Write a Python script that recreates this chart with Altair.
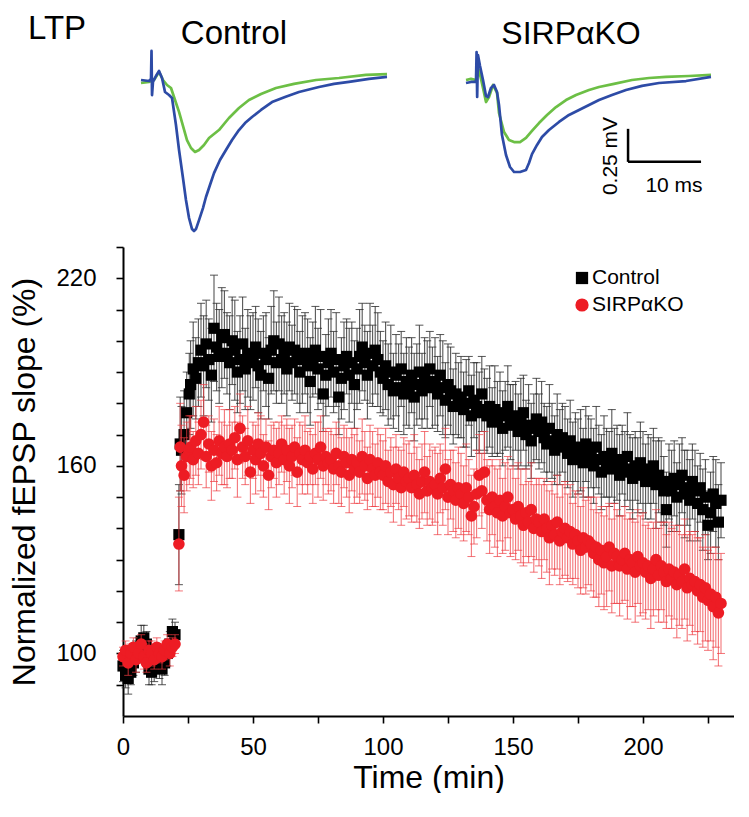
import altair as alt
import pandas as pd

# ---------------- LTP time course data ----------------
time_base = list(range(0, 21))
time_jump = [21.5, 22, 22.5, 23.5, 24.5, 25.5]
time_post = list(range(26, 231))

ctrl_base = [96, 93, 92, 94, 97, 99, 101, 104, 105, 103, 95, 94, 96, 99, 97, 95, 97, 100, 103, 107, 106]
ctrl_base_err = [5, 4, 5, 4, 4, 5, 4, 5, 4, 4, 5, 4, 5, 4, 5, 5, 4, 4, 4, 4, 4]
ctrl_jump = [138, 167, 165, 170, 177, 183]
ctrl_jump_err = [16, 15, 14, 14, 13, 13]
ctrl_post = [
    186, 191, 188, 193,
    197, 192, 199, 194, 189, 204, 198, 195, 201, 202,
    196, 193, 200, 197, 190, 194, 199, 191, 196, 193,
    195, 198, 192, 189, 196, 194, 188, 197, 200, 193,
    199, 194, 196, 191, 198, 193, 197, 195, 190, 194,
    196, 192, 187, 194, 197, 191, 195, 183, 189, 193,
    196, 190, 194, 182, 188, 192, 195, 189, 193, 186,
    191, 195, 198, 193, 189, 196, 192, 197, 194, 190,
    188, 192, 186, 190, 184, 189, 185, 191, 183, 187,
    185, 189, 182, 186, 190, 184, 188, 186, 191, 185,
    187, 183, 189, 185, 181, 186, 184, 179, 183, 181,
    182, 178, 180, 184, 176, 181, 179, 177, 183, 178,
    176, 179, 174, 178, 175, 177, 172, 176, 179, 174,
    173, 176, 171, 174, 177, 170, 173, 168, 172, 175,
    171, 174, 169, 167, 172, 168, 165, 170, 166, 169,
    167, 164, 168, 162, 166, 163, 165, 161, 167, 163,
    164, 160, 166, 162, 158, 163, 161, 159, 164, 160,
    161, 157, 162, 159, 163, 158, 156, 160, 157, 161,
    158, 155, 159, 156, 160, 154, 157, 155, 152, 146,
    155, 152, 156, 150, 154, 157, 151, 153, 149, 155,
    152, 148, 153, 146, 150, 141, 145, 151, 148, 142,
    149,
]
ctrl_post_err = [
    14, 15, 13, 14,
    15, 16, 14, 13, 15, 17, 14, 15, 16, 14,
    13, 15, 14, 16, 13, 14, 15, 13, 14, 15,
    14, 13, 15, 14, 12, 15, 13, 14, 16, 13,
    15, 14, 13, 15, 14, 12, 14, 15, 13, 14,
    13, 15, 14, 12, 14, 13, 15, 12, 13, 14,
    14, 13, 15, 12, 13, 14, 12, 15, 13, 14,
    13, 15, 14, 12, 14, 16, 13, 14, 15, 13,
    12, 14, 13, 15, 12, 13, 14, 12, 13, 14,
    13, 12, 14, 13, 15, 12, 13, 14, 12, 13,
    14, 12, 13, 15, 12, 13, 14, 12, 13, 12,
    13, 12, 14, 11, 13, 12, 14, 13, 12, 13,
    12, 13, 11, 14, 12, 13, 12, 11, 13, 12,
    13, 11, 12, 14, 12, 11, 13, 12, 11, 13,
    12, 13, 11, 12, 14, 12, 11, 13, 12, 11,
    12, 11, 13, 12, 11, 12, 13, 11, 12, 13,
    11, 12, 13, 11, 12, 13, 11, 12, 14, 12,
    12, 13, 11, 12, 14, 12, 13, 11, 12, 13,
    13, 12, 11, 13, 12, 14, 12, 13, 11, 12,
    12, 13, 12, 11, 13, 12, 14, 12, 13, 12,
    13, 12, 11, 13, 12, 11, 13, 12, 14, 12,
    12,
]

ko_base = [99, 101, 97, 100, 102, 98, 100, 103, 99, 97, 101, 100, 98, 102, 100, 99, 101, 103, 100, 102, 103]
ko_base_err = [3, 3, 4, 3, 3, 4, 3, 3, 4, 3, 3, 4, 3, 3, 3, 4, 3, 3, 4, 3, 3]
ko_jump = [135, 166, 160, 157, 163, 165]
ko_jump_err = [15, 14, 13, 12, 11, 11]
ko_post = [
    166, 162, 168, 164,
    170, 174, 163, 167, 160, 165, 161, 168, 164, 166,
    163, 167, 165, 169, 162, 172, 166, 163, 168, 158,
    165, 162, 167, 164, 160, 166, 157, 163, 165, 161,
    164, 167, 162, 165, 160, 163, 166, 158, 164, 162,
    165, 161, 163, 159, 164, 162, 166, 160, 163, 161,
    162, 159, 164, 160, 158, 163, 161, 157, 162, 159,
    161, 158, 163, 160, 156, 162, 159, 157, 161, 158,
    157, 160, 155, 158, 154, 159, 156, 153, 158, 155,
    156, 153, 157, 154, 151, 155, 158, 152, 155, 153,
    154, 151, 156, 153, 159, 150, 154, 152, 149, 153,
    151, 148, 153, 150, 144, 147, 151, 157, 152, 158,
    149, 146, 150, 147, 145, 149, 144, 147, 150, 145,
    146, 143, 147, 144, 141, 145, 142, 146, 140, 143,
    142, 139, 143, 140, 137, 141, 138, 142, 136, 139,
    140, 137, 139, 135, 138, 136, 133, 137, 134, 136,
    135, 132, 134, 130, 133, 129, 131, 134, 128, 132,
    131, 128, 130, 132, 127, 130, 129, 126, 131, 128,
    129, 126, 128, 124, 127, 130, 125, 128, 126, 123,
    127, 124, 126, 122, 125, 123, 127, 121, 124, 122,
    123, 120, 122, 118, 121, 117, 119, 115, 118, 113,
    116,
]
ko_post_err = [
    10, 9, 11, 10,
    11, 12, 10, 9, 11, 10, 9, 11, 10, 12,
    10, 11, 9, 10, 12, 11, 10, 9, 11, 10,
    9, 11, 10, 12, 10, 9, 11, 10, 9, 11,
    10, 9, 11, 10, 12, 10, 9, 11, 10, 11,
    11, 10, 9, 11, 10, 12, 10, 11, 9, 10,
    10, 11, 10, 12, 11, 10, 11, 12, 10, 11,
    11, 10, 12, 11, 10, 11, 12, 10, 11, 12,
    11, 12, 10, 11, 12, 11, 10, 12, 11, 12,
    12, 11, 13, 12, 11, 12, 13, 11, 12, 12,
    12, 13, 11, 12, 13, 12, 11, 13, 12, 13,
    13, 12, 14, 12, 13, 12, 14, 13, 12, 13,
    13, 14, 12, 13, 14, 13, 12, 14, 13, 14,
    14, 13, 14, 15, 13, 14, 13, 15, 14, 13,
    14, 15, 13, 14, 15, 14, 13, 15, 14, 15,
    15, 14, 15, 13, 14, 15, 14, 16, 15, 14,
    15, 14, 16, 15, 14, 15, 16, 14, 15, 16,
    15, 16, 14, 15, 16, 15, 14, 16, 15, 16,
    16, 15, 14, 16, 15, 16, 15, 14, 16, 15,
    15, 16, 15, 17, 16, 15, 16, 17, 15, 16,
    16, 17, 15, 16, 17, 16, 15, 17, 16, 17,
    16,
]

series_names = ["Control", "SIRPαKO"]
series_colors = ["#000000", "#ED1C24"]
series_shapes = ["square", "circle"]

x_ticks = [0, 25, 50, 75, 100, 125, 150, 175, 200, 225]
x_labels = [0, 50, 100, 150, 200]
y_ticks = [90, 100, 110, 120, 130, 140, 150, 160, 170, 180, 190, 200, 210, 220, 230]
y_labels = [100, 160, 220]

# ---------------- example traces (ms, mV) ----------------
ctrl_blue_t = [0, 1.10, 1.37, 1.44, 1.51, 1.64, 2.05, 2.47, 2.88, 3.29, 3.84, 4.25, 4.79, 5.21, 5.75, 6.16,
               6.58, 6.99, 7.26, 7.53, 7.95, 8.49, 8.90, 9.45, 10.0, 10.82, 11.64, 12.47, 13.42, 14.25,
               15.21, 16.44, 17.95, 19.73, 21.64, 24.38, 26.44, 28.49, 31.23, 33.70]
ctrl_blue_v = [0, -0.008, 0.008, 0.22, -0.114, -0.015, 0.03, 0.068, 0.015, -0.091, -0.114, -0.136, -0.341,
               -0.53, -0.742, -0.909, -1.045, -1.129, -1.144, -1.129, -1.061, -0.970, -0.886, -0.795, -0.705,
               -0.606, -0.530, -0.455, -0.379, -0.326, -0.280, -0.227, -0.167, -0.129, -0.091, -0.053,
               -0.030, -0.015, 0.008, 0.023]
ctrl_green_t = [0, 1.10, 1.78, 2.47, 3.01, 3.56, 4.11, 4.66, 5.21, 5.75, 6.30, 6.85, 7.40, 7.95, 8.63, 9.32,
                10.68, 12.05, 13.42, 14.79, 16.44, 18.49, 20.96, 23.97, 27.12, 30.82, 33.70]
ctrl_green_v = [-0.023, -0.015, 0, 0.061, 0, -0.038, -0.061, -0.152, -0.242, -0.348, -0.455, -0.515, -0.545,
                -0.530, -0.492, -0.439, -0.379, -0.288, -0.212, -0.152, -0.106, -0.061, -0.030, 0, 0.015,
                0.038, 0.045]
ko_blue_t = [0, 0.68, 1.37, 1.45, 1.53, 1.64, 1.92, 2.33, 2.74, 3.01, 3.42, 3.84, 4.25, 4.52, 4.93, 5.48,
             6.03, 6.58, 7.40, 8.22, 8.63, 9.04, 9.73, 10.41, 11.37, 12.74, 14.11, 15.48, 16.85, 18.22,
             20.0, 21.92, 24.11, 26.44, 30.14, 33.56]
ko_blue_v = [-0.023, -0.015, -0.015, 0.212, -0.129, 0.189, 0.106, 0, -0.121, -0.129, -0.061, -0.038, -0.091,
             -0.189, -0.417, -0.568, -0.659, -0.697, -0.697, -0.682, -0.629, -0.561, -0.492, -0.432, -0.379,
             -0.318, -0.265, -0.227, -0.189, -0.152, -0.114, -0.076, -0.045, -0.023, -0.008, 0.023]
ko_green_t = [0, 0.68, 1.37, 1.78, 2.33, 2.74, 3.15, 3.70, 4.25, 4.52, 5.21, 5.89, 6.58, 7.40, 8.22, 9.04,
              10.0, 11.10, 12.33, 13.70, 15.07, 16.85, 18.22, 20.27, 22.74, 25.07, 27.40, 30.55, 33.56]
ko_green_v = [0, 0.008, 0, 0.076, -0.061, -0.167, -0.129, -0.038, -0.098, -0.25, -0.394, -0.455, -0.470,
              -0.470, -0.439, -0.386, -0.326, -0.265, -0.205, -0.152, -0.114, -0.076, -0.053, -0.030, 0,
              0.015, 0.023, 0.030, 0.038]

bar_x = [22.2, 22.2]
bar_x2 = [32.2, 22.2]
bar_y = [-0.62, -0.62]
bar_y2 = [-0.62, -0.37]

FONT = "Liberation Sans"
BLUE = "#2D4BA6"
GREEN = "#6CBF45"

# ---------------- build tables ----------------
def series_df(name, base, base_err, jump, jump_err, post, post_err):
    vals = base + jump + post
    errs = base_err + jump_err + post_err
    t = time_base + time_jump + time_post
    assert len(vals) == len(errs) == len(t), (name, len(vals), len(errs), len(t))
    df = pd.DataFrame({"time": t, "value": vals, "err": errs})
    df["lo"] = df["value"] - df["err"]
    df["hi"] = df["value"] + df["err"]
    df["series"] = name
    return df

df_ctrl = series_df(series_names[0], ctrl_base, ctrl_base_err, ctrl_jump, ctrl_jump_err, ctrl_post, ctrl_post_err)
df_ko = series_df(series_names[1], ko_base, ko_base_err, ko_jump, ko_jump_err, ko_post, ko_post_err)

xs = alt.Scale(domain=[0, 235], nice=False, zero=False)
ys = alt.Scale(domain=[80, 230], nice=False, zero=False)

x_lab_list = "[" + ",".join(str(v) for v in x_labels) + "]"
y_lab_list = "[" + ",".join(str(v) for v in y_labels) + "]"
label_x_expr = f"indexof({x_lab_list}, datum.value) >= 0 ? datum.label : ''"
label_y_expr = f"indexof({y_lab_list}, datum.value) >= 0 ? datum.label : ''"

x_axis = alt.Axis(values=x_ticks, labelExpr=label_x_expr, title="Time (min)", labelPadding=12,
                  titlePadding=3, labelOverlap=False, labelFlush=False,
                  labelFontSize={"condition": {"test": f"indexof({x_lab_list}, datum.value) < 0", "value": 0},
                                 "value": 24})
y_axis = alt.Axis(values=y_ticks, labelExpr=label_y_expr, title="Normalized fEPSP slope (%)",
                  labelPadding=20, titlePadding=14, labelOverlap=False, labelFlush=False,
                  labelFontSize={"condition": {"test": f"indexof({y_lab_list}, datum.value) < 0", "value": 0},
                                 "value": 24})

def X(field="time"):
    return alt.X(f"{field}:Q", scale=xs, axis=x_axis)

def Y(field):
    return alt.Y(f"{field}:Q", scale=ys, axis=y_axis)

def err_layers(df, color, opacity):
    rule = alt.Chart(df).mark_rule(color=color, strokeWidth=1.1, opacity=opacity).encode(
        x=X(), y=Y("lo"), y2="hi:Q")
    cap_lo = alt.Chart(df).mark_tick(color=color, orient="horizontal", size=8, thickness=1,
                                     opacity=opacity).encode(x=X(), y=Y("lo"))
    cap_hi = alt.Chart(df).mark_tick(color=color, orient="horizontal", size=8, thickness=1,
                                     opacity=opacity).encode(x=X(), y=Y("hi"))
    return [rule, cap_lo, cap_hi]

def pts(df, color, shape, size):
    return alt.Chart(df).mark_point(filled=True, size=size, opacity=1, strokeWidth=0,
                                    color=color, shape=shape).encode(x=X(), y=Y("value"))

# hand-made legend (inside plot, top right)
legend_layers = []
for i, (nm, col, shp) in enumerate(zip(series_names, series_colors, series_shapes)):
    d = pd.DataFrame({"label": [nm]})
    legend_layers.append(alt.Chart(d).mark_point(filled=True, size=150 if shp == "square" else 175,
                                                 opacity=1, strokeWidth=0, color=col, shape=shp).encode(
        x=alt.value(459), y=alt.value(31 + 27 * i)))
    legend_layers.append(alt.Chart(d).mark_text(font=FONT, fontSize=21, color="black", align="left",
                                                baseline="middle").encode(
        x=alt.value(469), y=alt.value(31 + 27 * i), text="label:N"))

bottom = alt.layer(
    *err_layers(df_ctrl, "#2a2a2a", 0.8),
    pts(df_ctrl, series_colors[0], series_shapes[0], 125),
    *err_layers(df_ko, "#EE3A40", 0.7),
    pts(df_ko, series_colors[1], series_shapes[1], 135),
    *legend_layers,
).properties(width=611, height=469)

# ---------------- top traces ----------------
txs1 = alt.Scale(domain=[-2.466, 33.7], nice=False, zero=False)
txs2 = alt.Scale(domain=[0, 33.7], nice=False, zero=False)
tys = alt.Scale(domain=[-1.189, 0.545], nice=False, zero=False)

def trace(t, v, color, xscale):
    d = pd.DataFrame({"t": t, "v": v, "i": range(len(t))})
    return alt.Chart(d).mark_line(color=color, strokeWidth=2.7, strokeJoin="round").encode(
        x=alt.X("t:Q", scale=xscale, axis=None), y=alt.Y("v:Q", scale=tys, axis=None), order="i:Q")

def label(txt, x, y, size, angle=0, align="center", baseline="alphabetic"):
    return alt.Chart(pd.DataFrame({"label": [txt]})).mark_text(
        font=FONT, fontSize=size, color="black", align=align, baseline=baseline, angle=angle
    ).encode(x=alt.value(x), y=alt.value(y), text="label:N")

p1 = alt.layer(
    trace(ctrl_green_t, ctrl_green_v, GREEN, txs1),
    trace(ctrl_blue_t, ctrl_blue_v, BLUE, txs1),
    label("LTP", -95, 31, 33, align="left"),
    label("Control", 111, 36, 33),
).properties(width=264, height=229)

bar_df = pd.DataFrame({"x": bar_x, "x2": bar_x2, "y": bar_y, "y2": bar_y2})
scalebar = alt.Chart(bar_df).mark_rule(color="black", strokeWidth=2.5).encode(
    x=alt.X("x:Q", scale=txs2, axis=None), x2="x2:Q",
    y=alt.Y("y:Q", scale=tys, axis=None), y2="y2:Q")

p2 = alt.layer(
    trace(ko_green_t, ko_green_v, GREEN, txs2),
    trace(ko_blue_t, ko_blue_v, BLUE, txs2),
    scalebar,
    label("SIRPαKO", 105, 36, 32),
    label("10 ms", 208, 184, 21),
    label("0.25 mV", 145, 148, 21, angle=270, baseline="middle"),
).properties(width=246, height=229)

top = alt.hconcat(p1, p2, spacing=79, bounds="flush")

chart = alt.vconcat(top, bottom, spacing=9).properties(padding=0).configure(
    font=FONT
).configure_view(
    strokeWidth=0
).configure_axis(
    domainColor="black", domainWidth=2, tickColor="black", tickWidth=1.6, tickSize=7,
    labelFont=FONT, titleFont=FONT, labelColor="black",
    titleFontSize=32, titleColor="black", titleFontWeight="normal", grid=False
)

chart.save("out.html", embed_options={"renderer": "svg", "actions": False})
